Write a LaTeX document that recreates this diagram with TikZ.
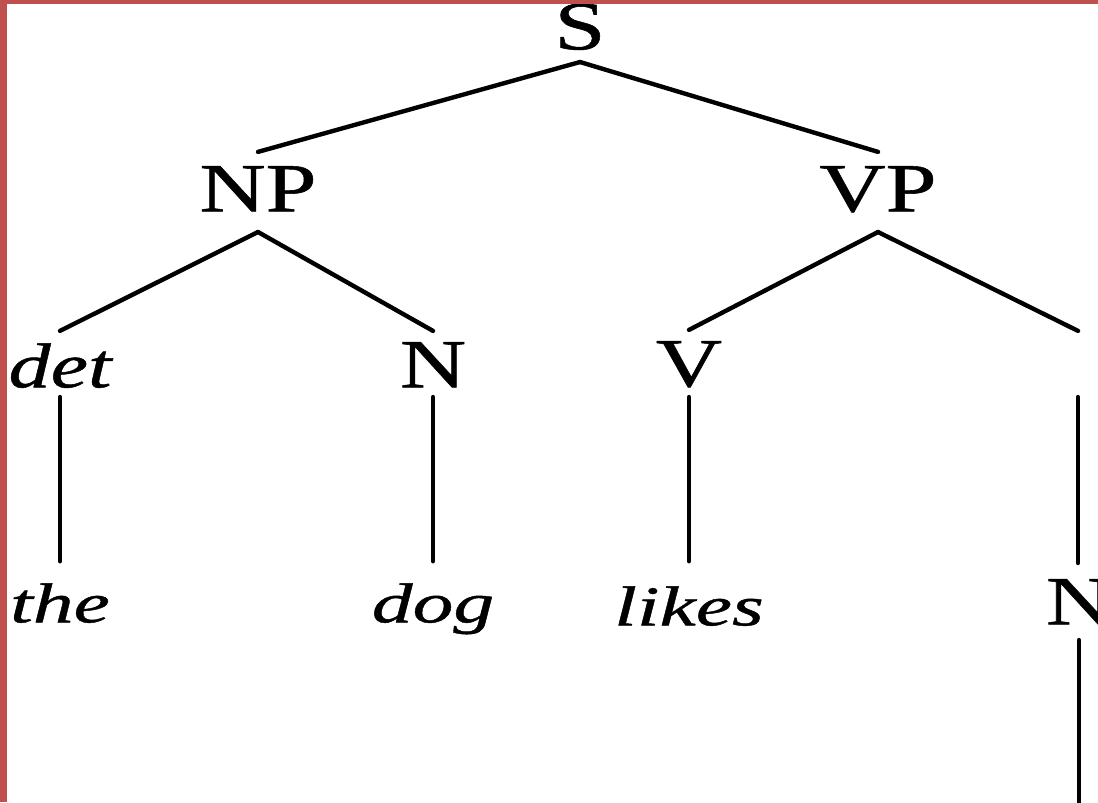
\documentclass[tikz,border=0pt]{standalone}
\usepackage{fontspec}
\usepackage{tikz}
\usetikzlibrary{positioning,calc}
\newfontfamily\catfont[FakeStretch=1.33,FakeBold=0.8]{Liberation Serif}
\newfontfamily\wordfont[FakeStretch=1.45,FakeBold=0.8]{Liberation Serif}
\definecolor{frame}{RGB}{192,80,77}
\tikzset{
  cat/.style={inner sep=0pt,anchor=south,text height=13pt,text depth=0pt,
    font=\catfont\fontsize{19.6}{22}\selectfont},
  catit/.style={cat,font=\catfont\fontsize{18}{20}\selectfont\itshape},
  word/.style={inner sep=0pt,anchor=south,text height=10.9pt,text depth=0pt,
    font=\wordfont\fontsize{16}{18}\selectfont\itshape},
  branch/.style={line width=1.25pt,line cap=round}
}

\begin{document}
\begin{tikzpicture}[x=0.01cm,y=-0.01cm]
\useasboundingbox (0,0) rectangle (1098,802);
\clip (0,0) rectangle (1098,802);
\node[cat] (S) at (580,50) {S};
\node[cat] (NP) at (258,212) {NP};
\node[cat] (VP) at (878,212) {VP};
\node[catit] (det) at (60,388) {det};
\node[cat] (N) at (433,388) {N};
\node[cat] (V) at (689,387) {V};
\node[cat] (obj) at (1078,388) {};
\node[word] (the) at (60,623) {the};
\node[word] (dog) at (433,623) {dog};
\node[word] (likes) at (689,626) {likes};
\node[cat] (N2) at (1079,625) {N};
\coordinate (N2end) at (1079,830);
\draw[branch] ($(S.south)+(0,12)$) -- ($(NP.north)+(0,-13)$);
\draw[branch] ($(S.south)+(0,12)$) -- ($(VP.north)+(0,-13)$);
\draw[branch] ($(NP.south)+(0,20)$) -- ($(det.north)+(0,-10)$);
\draw[branch] ($(NP.south)+(0,20)$) -- ($(N.north)+(0,-10)$);
\draw[branch] ($(VP.south)+(0,20)$) -- ($(V.north)+(0,-10)$);
\draw[branch] ($(VP.south)+(0,20)$) -- ($(obj.north)+(0,-10)$);
\draw[branch] ($(det.south)+(0,9)$) -- ($(the.north)+(0,-22)$);
\draw[branch] ($(N.south)+(0,9)$) -- ($(dog.north)+(0,-22)$);
\draw[branch] ($(V.south)+(0,10)$) -- ($(likes.north)+(0,-25)$);
\draw[branch] ($(obj.south)+(0,9)$) -- ($(obj.south)+(0,175)$);
\draw[branch] ($(N2.south)+(0,15)$) -- (N2end);
\fill[frame] (0,0) rectangle (7,802);
\fill[frame] (0,0) rectangle (1098,4);
\end{tikzpicture}
\end{document}
